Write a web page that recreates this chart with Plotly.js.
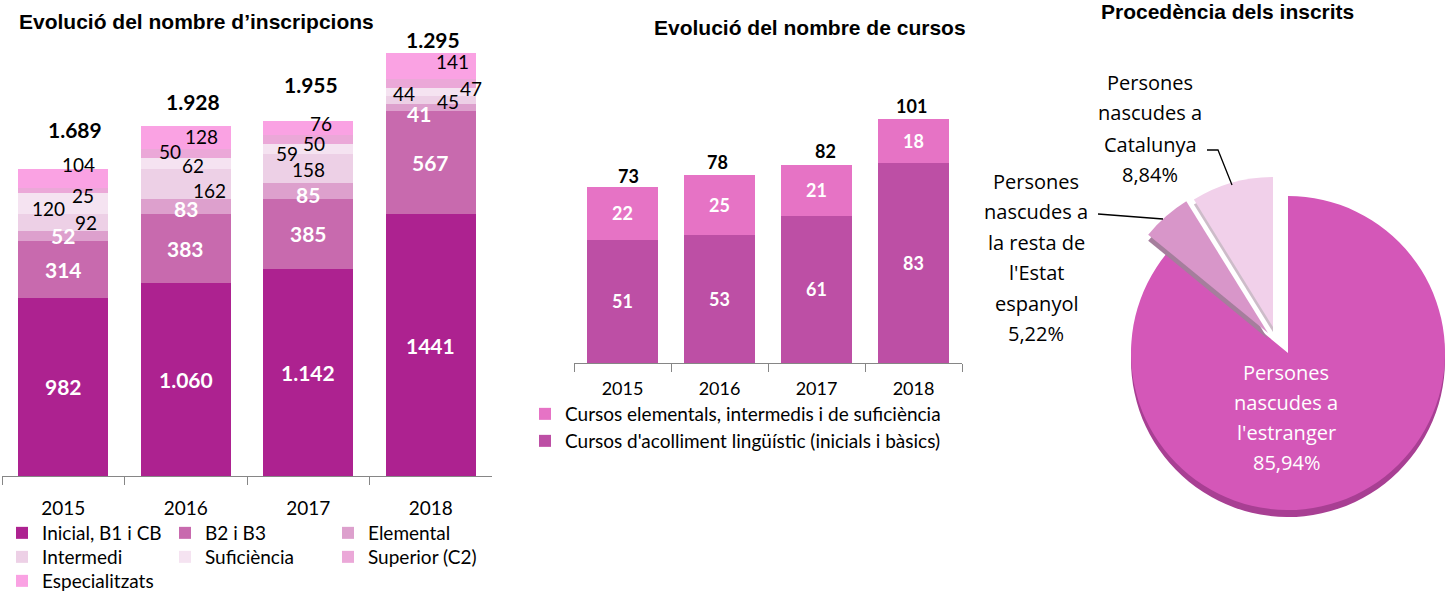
<!DOCTYPE html>
<html><head><meta charset="utf-8">
<script src="https://cdn.plot.ly/plotly-3.0.1.min.js"></script>
<style>html,body{margin:0;padding:0;background:#fff;overflow:hidden}#chart{width:1447px;height:591px}</style>
</head><body><div id="chart"></div>
<script>
// ---------------- data ----------------
const years = ['2015', '2016', '2017', '2018'];

const seriesNames = ['Inicial, B1 i CB', 'B2 i B3', 'Elemental', 'Intermedi', 'Suficiència', 'Superior (C2)', 'Especialitzats'];
const inicial = [982, 1060, 1142, 1441];
const b2b3 = [314, 383, 385, 567];
const elemental = [52, 83, 85, 41];
const intermedi = [92, 162, 158, 45];
const suficiencia = [120, 62, 59, 44];
const superior = [25, 50, 50, 47];
const especialitzats = [104, 128, 76, 141];
const inicialLabels = ['982', '1.060', '1.142', '1441'];
const totalLabels = ['1.689', '1.928', '1.955', '1.295'];

const cursosNames = ['Cursos elementals, intermedis i de suficiència', "Cursos d'acolliment lingüístic (inicials i bàsics)"];
const cursosElementals = [22, 25, 21, 18];
const cursosAcolliment = [51, 53, 61, 83];

const pieLines = [
  ['Persones', 'nascudes a', "l'estranger"],
  ['Persones', 'nascudes a', 'la resta de', "l'Estat", 'espanyol'],
  ['Persones', 'nascudes a', 'Catalunya']
];
const pieValues = [85.94, 5.22, 8.84];

const titles = ['Evolució del nombre d’inscripcions', 'Evolució del nombre de cursos', 'Procedència dels inscrits'];

// ---------------- styles ----------------
const W = 1447, H = 591;
const px = x => x / W;
const py = y => 1 - y / H;
const FONT = 'Lato, "Open Sans", sans-serif';
const PIEFONT = '"Open Sans", Lato, sans-serif';
const TFONT = '"Liberation Sans", Arial, sans-serif';

const leftSeries = [inicial, b2b3, elemental, intermedi, suficiencia, superior, especialitzats];
const leftColors = ['#AD2290', '#C86AAE', '#DDA0CD', '#EDD0E6', '#F5E3F1', '#EBA8D8', '#FAA2E3'];
const leftLegend = ['legend', 'legend', 'legend', 'legend2', 'legend2', 'legend2', 'legend3'];
// label offsets [xshift, yshift] per series per year
const labelOffsets = [
  [[0, 0], [0, 0], [0, 0], [0, 0]],
  [[0, 0], [0, 0], [0, 0], [0, 0]],
  [[0, 0], [0, -2], [0, -4], [-12, -6]],
  [[23, 0], [24, -6], [0, -1], [17, -2]],
  [[-15, -5], [7, -2], [-21, -4], [-27, -2]],
  [[20, -5], [-16, 2], [6, -4], [40, -5]],
  [[15, 14], [16, 1], [13, 4], [22, 5]]
];
const labelWhite = [true, true, true, false, false, false, false];
const totalOffsets = [[12, 40], [7, 24], [3, 36], [2, 14]];

const cursosColors = ['#E673C5', '#BD4FA5'];
const cursosTotalOffsets = [[6, 11], [-2, 13], [9, 14], [-2, 13]];

const pieColors = ['#D457B8', '#D896C9', '#F1D0EA'];
const pieSideColors = ['#A83F93', '#A57E9C', '#CDBCC9'];

// ---------------- traces ----------------
const traces = [];
leftSeries.forEach((vals, s) => {
  traces.push({
    type: 'bar', x: years, y: vals, name: seriesNames[s],
    xaxis: 'x', yaxis: 'y', legend: leftLegend[s],
    marker: {color: leftColors[s], line: {width: 0}},
    hoverinfo: 'x+y+name'
  });
});

// middle chart: bottom series first
traces.push({
  type: 'bar', x: years, y: cursosAcolliment, name: cursosNames[1],
  xaxis: 'x2', yaxis: 'y2', legend: 'legend5',
  marker: {color: cursosColors[1], line: {width: 0}},
  text: cursosAcolliment.map(String), textposition: 'inside', insidetextanchor: 'middle',
  textangle: 0, constraintext: 'none',
  textfont: {family: FONT, size: 18, color: '#ffffff', weight: 'bold'}
});
traces.push({
  type: 'bar', x: years, y: cursosElementals, name: cursosNames[0],
  xaxis: 'x2', yaxis: 'y2', legend: 'legend4',
  marker: {color: cursosColors[0], line: {width: 0}},
  text: cursosElementals.map(String), textposition: 'inside', insidetextanchor: 'middle',
  textangle: 0, constraintext: 'none',
  textfont: {family: FONT, size: 18, color: '#ffffff', weight: 'bold'}
});

// pie: separate layers so that the pulled slices keep full radius;
// each slice gets a darker copy shifted down for the 3-D side
function pieDomain(cx, cy, r) {
  return {x: [px(cx - r), px(cx + r)], y: [py(cy + r), py(cy - r)]};
}
const pieLayers = [
  {show: 0, cx: 1288, cy: 353, r: 157, side: 7},
  {show: 1, cx: 1268, cy: 333, r: 155, side: 6},
  {show: 2, cx: 1273, cy: 327, r: 150, side: 5}
];
function pieTrace(l, colorArr, dy) {
  return {
    type: 'pie', values: pieValues, labels: pieLines.map(a => a.join(' ')),
    sort: false, direction: 'clockwise', rotation: 0,
    domain: pieDomain(l.cx, l.cy + dy, l.r),
    marker: {colors: colorArr.map((c, i) => i === l.show ? c : 'rgba(0,0,0,0)'), line: {width: 0}},
    textinfo: 'none', showlegend: false, hoverinfo: 'skip'
  };
}
pieLayers.forEach(l => {
  traces.push(pieTrace(l, pieSideColors, l.side));
  traces.push(pieTrace(l, pieColors, 0));
});

// ---------------- annotations ----------------
const annotations = [];
// left chart labels
const cum = years.map(() => 0);
leftSeries.forEach((vals, s) => {
  vals.forEach((v, i) => {
    const mid = cum[i] + v / 2;
    cum[i] += v;
    const white = labelWhite[s];
    annotations.push({
      x: i, y: mid, xref: 'x', yref: 'y',
      text: s === 0 ? inicialLabels[i] : String(v), showarrow: false,
      xshift: labelOffsets[s][i][0], yshift: labelOffsets[s][i][1],
      font: {family: FONT, size: white ? 21 : 19, color: white ? '#ffffff' : '#000000', weight: white ? 'bold' : 'normal'}
    });
  });
});
years.forEach((yr, i) => {
  annotations.push({
    x: i, y: cum[i], xref: 'x', yref: 'y', text: totalLabels[i], showarrow: false,
    xshift: totalOffsets[i][0], yshift: totalOffsets[i][1],
    font: {family: FONT, size: 21, color: '#000000', weight: 'bold'}
  });
});
// middle chart totals
years.forEach((yr, i) => {
  const tot = cursosElementals[i] + cursosAcolliment[i];
  annotations.push({
    x: i, y: tot, xref: 'x2', yref: 'y2', text: String(tot), showarrow: false,
    xshift: cursosTotalOffsets[i][0], yshift: cursosTotalOffsets[i][1],
    font: {family: FONT, size: 18, color: '#000000', weight: 'bold'}
  });
});
// titles
annotations.push({x: px(17), y: py(22), xref: 'paper', yref: 'paper', xanchor: 'left', yanchor: 'middle', showarrow: false,
  text: titles[0], font: {family: TFONT, size: 21, color: '#000', weight: 'bold'}});
annotations.push({x: px(810), y: py(28), xref: 'paper', yref: 'paper', xanchor: 'center', yanchor: 'middle', showarrow: false,
  text: titles[1], font: {family: TFONT, size: 21, color: '#000', weight: 'bold'}});
annotations.push({x: px(1227), y: py(12), xref: 'paper', yref: 'paper', xanchor: 'center', yanchor: 'middle', showarrow: false,
  text: titles[2], font: {family: TFONT, size: 21, color: '#000', weight: 'bold'}});

// pie labels (one annotation per line for Excel-like line spacing)
const fmtPct = v => v.toFixed(2).replace('.', ',') + '%';
const pieLabelPos = [
  {x: 1286, y0: 372, step: 30, color: '#ffffff'},
  {x: 1036, y0: 181, step: 30.5, color: '#000000'},
  {x: 1150, y0: 82, step: 31, color: '#000000'}
];
pieLines.forEach((lines, k) => {
  const all = lines.concat([fmtPct(pieValues[k])]);
  const p = pieLabelPos[k];
  all.forEach((t, j) => {
    annotations.push({x: px(p.x), y: py(p.y0 + j * p.step), xref: 'paper', yref: 'paper',
      xanchor: 'center', yanchor: 'middle', showarrow: false, text: t,
      font: {family: PIEFONT, size: 20, color: p.color}});
  });
});

// leader lines
const shapes = [
  {type: 'path', xref: 'paper', yref: 'paper',
   path: `M ${px(1207)} ${py(150)} L ${px(1218)} ${py(150)} L ${px(1232)} ${py(185)}`,
   line: {color: '#000', width: 1.3}},
  {type: 'path', xref: 'paper', yref: 'paper',
   path: `M ${px(1098)} ${py(214)} L ${px(1163)} ${py(219)}`,
   line: {color: '#000', width: 1.3}}
];

// ---------------- layout ----------------
function legendRow(xpx, ypx, ew) {
  return {x: px(xpx), y: py(ypx), xanchor: 'left', yanchor: 'middle', orientation: 'h',
    entrywidth: ew, entrywidthmode: 'pixels', bgcolor: 'rgba(0,0,0,0)', borderwidth: 0,
    font: {family: FONT, size: 19, color: '#000'}, traceorder: 'normal',
    itemclick: false, itemdoubleclick: false};
}
const axisX = (lo, hi, anchor, standoff, fs) => ({
  domain: [px(lo), px(hi)], anchor: anchor, type: 'category', range: [-0.5, 3.5],
  showline: true, linecolor: '#868686', linewidth: 1, ticks: 'outside', tickson: 'boundaries',
  ticklen: 8, tickcolor: '#868686', tickwidth: 1, showgrid: false, zeroline: false,
  ticklabelstandoff: standoff, tickfont: {family: FONT, size: fs, color: '#000'}, fixedrange: true
});
const axisY = (lo, hi, top) => ({
  domain: [py(lo), py(hi)], range: [0, top], type: 'linear', visible: true,
  showline: false, showgrid: false, zeroline: false, showticklabels: false, ticks: '', fixedrange: true
});

const layout = {
  width: W, height: H, margin: {l: 0, r: 0, t: 0, b: 0, autoexpand: false},
  paper_bgcolor: '#ffffff', plot_bgcolor: 'rgba(0,0,0,0)',
  barmode: 'stack', bargap: 0.265,
  showlegend: true,
  xaxis: axisX(2, 492, 'y', 15, 19),
  yaxis: axisY(476, 40, 2400),
  xaxis2: axisX(574, 962, 'y2', 9, 18),
  yaxis2: axisY(363, 49, 130),
  legend: legendRow(2, 533, 118),
  legend2: legendRow(2, 557, 118),
  legend3: legendRow(2, 581, 118),
  legend4: legendRow(525, 414, 400),
  legend5: legendRow(525, 441, 400),
  annotations: annotations,
  shapes: shapes,
  hovermode: 'closest'
};

Plotly.newPlot('chart', traces, layout, {displayModeBar: false, responsive: false});
</script>
</body></html>
